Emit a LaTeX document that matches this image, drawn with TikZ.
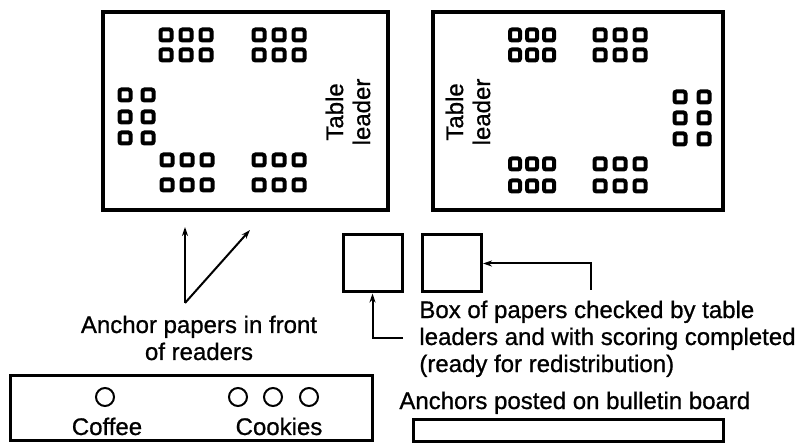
\documentclass[tikz,border=0pt]{standalone}
\usepackage{fontspec}
\setmainfont{Liberation Sans}[FakeBold=0.8]
\usetikzlibrary{arrows.meta}
\begin{document}
\begin{tikzpicture}[x=0.5pt,y=-0.5pt,
  every node/.style={font=\fontsize{12pt}{13.5pt}\selectfont, inner sep=0pt},
  tablebox/.style={draw, line width=1.75pt, inner sep=0pt, outer sep=0pt},
  smallbox/.style={draw, line width=1.5pt, minimum width=29.5pt, minimum height=28.5pt, inner sep=0pt},
  longbox/.style={draw, line width=1.5pt, inner sep=0pt},
  chair/.style={draw, line width=2pt, rounded corners=1pt},
  cup/.style={draw, line width=1pt, circle, minimum size=9pt, inner sep=0pt},
  arr/.style={line width=1pt, -{Stealth[length=4.5pt, width=3pt]}},
  lbl/.style={anchor=base, align=center}
]
\useasboundingbox (0,0) rectangle (805,444);

% tables
\node[tablebox, minimum width=142.5pt, minimum height=99pt] (T1) at (245.5,111) {};
\node[tablebox, minimum width=145pt, minimum height=99pt] (T2) at (578,111) {};

% chairs, left table
\foreach \x in {166,186,206} \foreach \y in {35,55}
  \draw[chair] (\x-5.5,\y-5.5) rectangle ++(11,11);
\foreach \x in {259,279,299} \foreach \y in {35,55}
  \draw[chair] (\x-5.5,\y-5.5) rectangle ++(11,11);
\foreach \x in {125,148} \foreach \y in {95,117,138}
  \draw[chair] (\x-5.5,\y-5.5) rectangle ++(11,11);
\foreach \x in {167,187,207} \foreach \y in {160,185}
  \draw[chair] (\x-5.5,\y-5.5) rectangle ++(11,11);
\foreach \x in {259,279,299} \foreach \y in {160,185}
  \draw[chair] (\x-5.5,\y-5.5) rectangle ++(11,11);

% chairs, right table
\foreach \x in {515,532,549} \foreach \y in {35,55}
  \draw[chair] (\x-5,\y-5.5) rectangle ++(10,11);
\foreach \x in {600,620,640} \foreach \y in {35,55}
  \draw[chair] (\x-5.5,\y-5.5) rectangle ++(11,11);
\foreach \x in {680,704} \foreach \y in {97,118,139}
  \draw[chair] (\x-5.5,\y-5.5) rectangle ++(11,11);
\foreach \x in {515,532,549} \foreach \y in {164,186}
  \draw[chair] (\x-5,\y-5.5) rectangle ++(10,11);
\foreach \x in {600,620,640} \foreach \y in {164,186}
  \draw[chair] (\x-5.5,\y-5.5) rectangle ++(11,11);

% table leader labels
\node[align=center, rotate=90] (L1) at (348,112) {Table\\leader};
\node[align=center, rotate=90] (L2) at (468,112) {Table\\leader};

% anchor arrows
\coordinate (a0) at (185,303);
\coordinate (a1) at (185,227);
\coordinate (a2) at (250,230);
\draw[arr] (a0) -- (a1);
\draw[arr] (a0) -- (a2);
\node[lbl] (anch) at (199,360) {Anchor papers in front\\of readers};

% boxes of papers
\node[smallbox] (B1) at (372.5,263.5) {};
\node[smallbox] (B2) at (452,263.5) {};
\coordinate (c1) at (403,338);
\coordinate (c2) at (591,290);
\draw[arr] (c1) -| (B1.south);
\draw[arr] (c2) |- (B2.east);
\node[anchor=base west, align=left] (boxtxt) at (419,372)
  {Box of papers checked by table\\leaders and with scoring completed\\(ready for redistribution)};

% coffee table
\node[longbox, minimum width=181pt, minimum height=32.5pt] (CT) at (191,408.5) {};
\node[cup] (cf) at (105,397) {};
\node[cup] (k1) at (238,397) {};
\node[cup] (k2) at (273,397) {};
\node[cup] (k3) at (309,397) {};
\node[anchor=base] (coffee) at (107,435) {Coffee};
\node[anchor=base] (cookies) at (279,435) {Cookies};

% bulletin board
\node[anchor=base west] (bbtxt) at (399,409) {Anchors posted on bulletin board};
\node[longbox, minimum width=155pt, minimum height=11pt] (BB) at (568,431) {};
\end{tikzpicture}
\end{document}
